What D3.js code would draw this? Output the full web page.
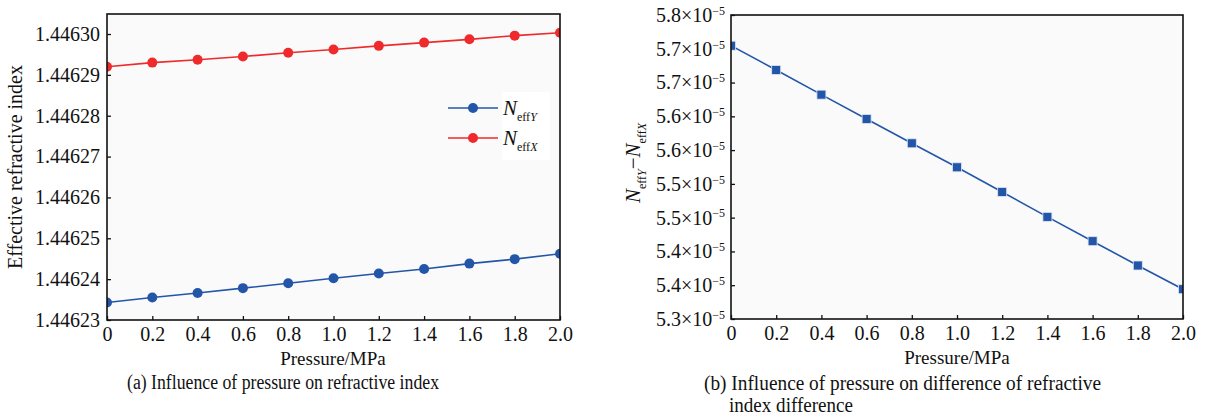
<!DOCTYPE html>
<html><head><meta charset="utf-8">
<script src="https://cdn.jsdelivr.net/npm/d3@7"></script>
<style>
body{margin:0;background:#fff;}
svg{display:block;}
text{font-family:"Liberation Serif","Times New Roman",serif;fill:#111;}
</style></head>
<body><svg id="c" width="1214" height="418"></svg>
<script>
const pressure = [0,0.2,0.4,0.6,0.8,1.0,1.2,1.4,1.6,1.8,2.0];
const nEffX = [1.4462920,1.4462930,1.4462937,1.4462945,1.4462954,1.4462962,1.4462971,1.4462979,1.4462987,1.4462996,1.4463003];
const nEffY = [1.4462343,1.4462355,1.4462366,1.4462378,1.4462390,1.4462402,1.4462414,1.4462425,1.4462438,1.4462449,1.4462462];
const diff = [5.7495,5.7095,5.669,5.629,5.589,5.5495,5.509,5.468,5.428,5.388,5.349]; // ×10^-5
const xTicks = [0,0.2,0.4,0.6,0.8,1.0,1.2,1.4,1.6,1.8,2.0];
const xTickLabels = ["0","0.2","0.4","0.6","0.8","1.0","1.2","1.4","1.6","1.8","2.0"];
const leftYTicks = [1.44623,1.44624,1.44625,1.44626,1.44627,1.44628,1.44629,1.44630];
const rightYTicks = [5.3,5.3556,5.4111,5.4667,5.5222,5.5778,5.6333,5.6889,5.7444,5.8];
const xTitle = "Pressure/MPa";
const leftYTitle = "Effective refractive index";
const captionA = "(a) Influence of pressure on refractive index";
const captionB1 = "(b) Influence of pressure on difference of refractive";
const captionB2 = "index difference";

const svg = d3.select("#c");
const red = "#ee2a2c", blue = "#2356a8";

// ---------- Left chart ----------
const L = {x0:107,x1:560,y0:320,y1:14};
const xL = d3.scaleLinear().domain([0,2]).range([L.x0,L.x1]);
const yL = d3.scaleLinear().domain([1.44623,1.4463049]).range([L.y0,L.y1]);

svg.append("rect").attr("x",L.x0).attr("y",L.y1).attr("width",L.x1-L.x0).attr("height",L.y0-L.y1).attr("fill","#fafafa");
svg.append("clipPath").attr("id","clipL").append("rect").attr("x",L.x0).attr("y",L.y1).attr("width",L.x1-L.x0).attr("height",L.y0-L.y1);

function styleAxis(g){
  g.select(".domain").remove();
  g.selectAll(".tick line").attr("stroke","#111").attr("stroke-width",1.3);
  g.selectAll("text").attr("font-size",20).attr("fill","#111").attr("font-family","Liberation Serif");
}
const gxL = svg.append("g").attr("transform",`translate(0,${L.y0})`)
  .call(d3.axisBottom(xL).tickValues(xTicks).tickFormat((d,i)=>xTickLabels[i]).tickSizeInner(-4).tickSizeOuter(0).tickPadding(7));
styleAxis(gxL);
const gyL = svg.append("g").attr("transform",`translate(${L.x0},0)`)
  .call(d3.axisLeft(yL).tickValues(leftYTicks).tickFormat(d3.format(".5f")).tickSizeInner(-4).tickSizeOuter(0).tickPadding(7));
styleAxis(gyL);

const lineL = (arr)=>d3.line().x((d,i)=>xL(pressure[i])).y(d=>yL(d))(arr);
const pL = svg.append("g").attr("clip-path","url(#clipL)");
[[nEffX,red],[nEffY,blue]].forEach(([arr,c])=>{
  pL.append("path").attr("d",lineL(arr)).attr("fill","none").attr("stroke",c).attr("stroke-width",1.6);
  pL.selectAll(null).data(arr).enter().append("circle")
    .attr("cx",(d,i)=>xL(pressure[i])).attr("cy",d=>yL(d)).attr("r",5).attr("fill",c);
});
svg.append("rect").attr("x",L.x0).attr("y",L.y1).attr("width",L.x1-L.x0).attr("height",L.y0-L.y1)
  .attr("fill","none").attr("stroke","#111").attr("stroke-width",1.6);

// legend
const leg = svg.append("g");
leg.append("rect").attr("x",502).attr("y",92).attr("width",48).attr("height",68).attr("fill","#fff");
[["Y",blue,108],["X",red,138]].forEach(([s,c,y])=>{
  leg.append("line").attr("x1",448).attr("x2",498).attr("y1",y).attr("y2",y).attr("stroke",c).attr("stroke-width",1.6);
  leg.append("circle").attr("cx",473).attr("cy",y).attr("r",5).attr("fill",c);
  const t = leg.append("text").attr("x",503).attr("y",y+7).attr("font-size",21);
  t.append("tspan").attr("font-style","italic").text("N");
  t.append("tspan").attr("font-size",12).attr("dy",6).text("eff");
  t.append("tspan").attr("font-size",12).attr("font-style","italic").text(s);
});

svg.append("text").attr("x",333).attr("y",365).attr("text-anchor","middle").attr("font-size",19).text(xTitle);
svg.append("text").attr("transform","translate(22,167) rotate(-90)").attr("text-anchor","middle").attr("font-size",20).text(leftYTitle);
svg.append("text").attr("x",283).attr("y",389).attr("text-anchor","middle").attr("font-size",20)
  .attr("textLength",312).attr("lengthAdjust","spacingAndGlyphs").text(captionA);

// ---------- Right chart ----------
const R = {x0:731,x1:1183,y0:319,y1:15};
const xR = d3.scaleLinear().domain([0,2]).range([R.x0,R.x1]);
const yR = d3.scaleLinear().domain([5.3,5.8]).range([R.y0,R.y1]);
svg.append("rect").attr("x",R.x0).attr("y",R.y1).attr("width",R.x1-R.x0).attr("height",R.y0-R.y1).attr("fill","#fafafa");
svg.append("clipPath").attr("id","clipR").append("rect").attr("x",R.x0).attr("y",R.y1).attr("width",R.x1-R.x0).attr("height",R.y0-R.y1);

const gxR = svg.append("g").attr("transform",`translate(0,${R.y0})`)
  .call(d3.axisBottom(xR).tickValues(xTicks).tickFormat((d,i)=>xTickLabels[i]).tickSizeInner(-4).tickSizeOuter(0).tickPadding(7));
styleAxis(gxR);
const gyR = svg.append("g").attr("transform",`translate(${R.x0},0)`)
  .call(d3.axisLeft(yR).tickValues(rightYTicks).tickFormat(()=>"").tickSizeInner(-4).tickSizeOuter(0).tickPadding(6));
styleAxis(gyR);
gyR.selectAll(".tick text").each(function(d){
  const t = d3.select(this).text("");
  t.append("tspan").text(d3.format(".1f")(d)+"×10");
  t.append("tspan").attr("font-size",12).attr("dy","-0.6em").text("−5");
});

const pR = svg.append("g").attr("clip-path","url(#clipR)");
pR.append("path").attr("d",d3.line().x((d,i)=>xR(pressure[i])).y(d=>yR(d))(diff))
  .attr("fill","none").attr("stroke",blue).attr("stroke-width",1.6);
pR.selectAll(null).data(diff).enter().append("rect")
  .attr("x",(d,i)=>xR(pressure[i])-4.5).attr("y",d=>yR(d)-4.5).attr("width",9).attr("height",9)
  .attr("fill",blue).attr("stroke","#dfe6f2").attr("stroke-width",0.8);
svg.append("rect").attr("x",R.x0).attr("y",R.y1).attr("width",R.x1-R.x0).attr("height",R.y0-R.y1)
  .attr("fill","none").attr("stroke","#111").attr("stroke-width",1.6);

svg.append("text").attr("x",957).attr("y",364).attr("text-anchor","middle").attr("font-size",19).text(xTitle);
const ry = svg.append("text").attr("transform","translate(640,163) rotate(-90)").attr("text-anchor","middle").attr("font-size",21);
ry.append("tspan").attr("font-style","italic").text("N");
ry.append("tspan").attr("font-size",12).attr("dy",6).text("eff");
ry.append("tspan").attr("font-size",12).attr("font-style","italic").text("Y");
ry.append("tspan").attr("dy",-6).text("−");
ry.append("tspan").attr("font-style","italic").text("N");
ry.append("tspan").attr("font-size",12).attr("dy",6).text("eff");
ry.append("tspan").attr("font-size",12).attr("font-style","italic").text("X");

svg.append("text").attr("x",704).attr("y",390).attr("font-size",20)
  .attr("textLength",397).attr("lengthAdjust","spacingAndGlyphs").text(captionB1);
svg.append("text").attr("x",729).attr("y",412).attr("font-size",20)
  .attr("textLength",124).attr("lengthAdjust","spacingAndGlyphs").text(captionB2);
</script></body></html>
